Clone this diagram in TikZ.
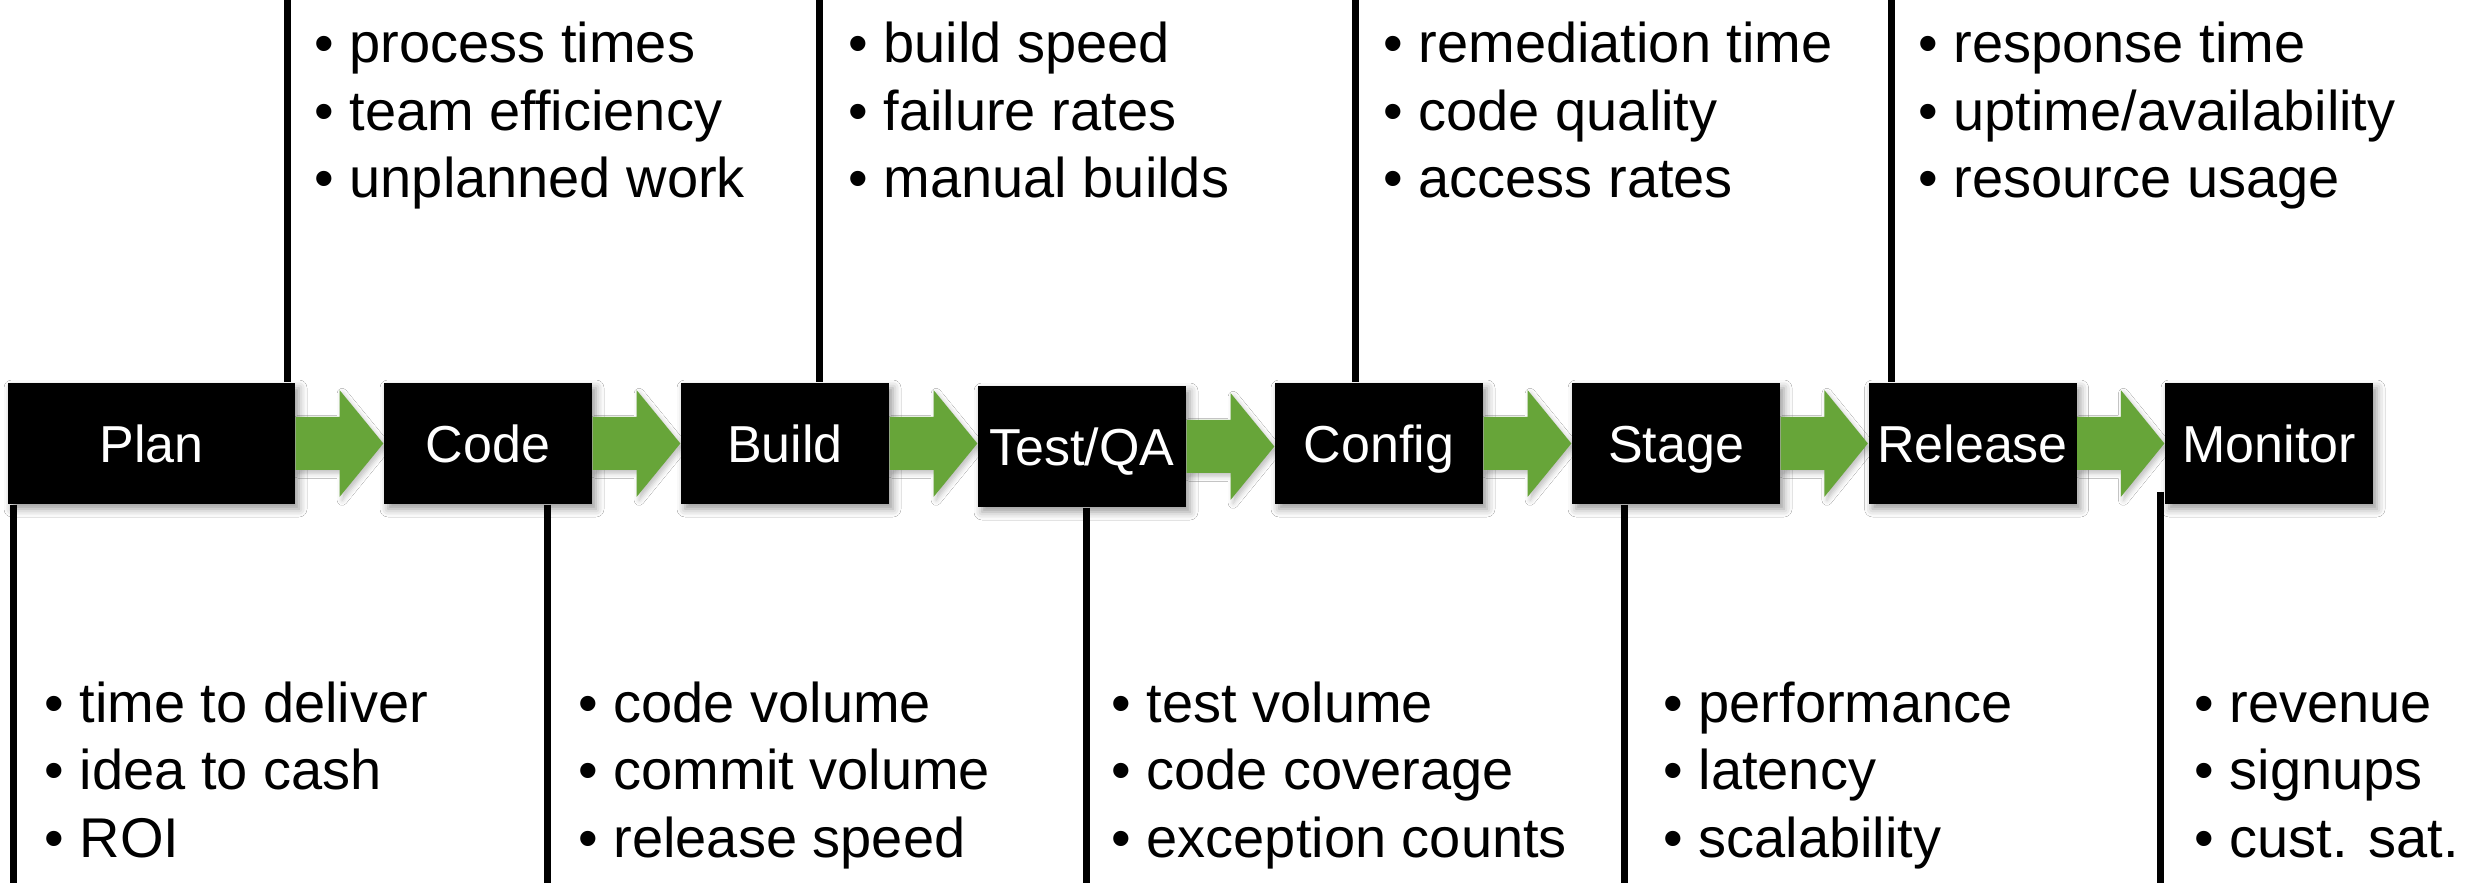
\documentclass[tikz,border=0pt]{standalone}
\usepackage{fontspec}
\setmainfont{Liberation Sans}
\usetikzlibrary{calc,shadows.blur}

\definecolor{flowgreen}{RGB}{103,165,57}

% one unit = one pixel of the 2466 x 883 canvas (y runs downward)
\tikzset{
  stagebox/.style={fill=black, text=white, inner sep=0pt,
    minimum height=36.3pt, minimum width=62.4pt,
    text height=11.2pt, text depth=0pt,
    font=\fontsize{15.6}{18}\selectfont,
    blur shadow={shadow xshift=1.2pt, shadow yshift=-1.5pt,
      shadow blur radius=2.4pt, shadow opacity=40}},
  flow/.style={fill=flowgreen,
    blur shadow={shadow xshift=0.8pt, shadow yshift=-1pt,
      shadow blur radius=1.5pt, shadow opacity=25}},
  rule/.style={line width=2.1pt, black},
  metric/.style={anchor=base west, inner sep=0pt,
    font=\fontsize{16.8}{20.25}\selectfont},
}

\newcommand\bul{\makebox[10.5pt][l]{•}}
\newcommand\metrics[3]{\begin{tabular}[t]{@{}l@{}}\bul #1\\\bul #2\\\bul #3\end{tabular}}

% green block arrow from the east side of #1 to the west side of #2
\newcommand\flowarrow[2]{%
  \path[flow] let \p1=(#1.east), \p2=(#2.west),
      \p3=($(#1.east)!0.5!(#2.west)$) in
    (\x1,\y1+7.95pt) -- (\x3,\y1+7.95pt) -- (\x3,\y1+16.05pt)
    -- (\x2,\y1) -- (\x3,\y1-16.05pt) -- (\x3,\y1-7.95pt)
    -- (\x1,\y1-7.95pt) -- cycle;}

\begin{document}
\begin{tikzpicture}[x=0.3pt, y=-0.3pt]
  \useasboundingbox[fill=white] (0,0) rectangle (2466,883);

  % pipeline stages
  \node[stagebox, minimum width=86.1pt] (plan) at (151.5,443.5) {Plan};
  \node[stagebox] (code)    at (488,443.5)    {Code};
  \node[stagebox] (build)   at (785,443.5)    {Build};
  \node[stagebox] (test)    at (1082,446.5)   {Test/QA};
  \node[stagebox] (config)  at (1379,443.5)   {Config};
  \node[stagebox] (stage)   at (1676,443.5)   {Stage};
  \node[stagebox] (release) at (1972.5,443.5) {Release};
  \node[stagebox] (monitor) at (2269,443.5)   {Monitor};

  % flow between stages
  \flowarrow{plan}{code}
  \flowarrow{code}{build}
  \flowarrow{build}{test}
  \flowarrow{test}{config}
  \flowarrow{config}{stage}
  \flowarrow{stage}{release}
  \flowarrow{release}{monitor}

  % rules up to the top edge
  \coordinate (up1) at (287,0);
  \coordinate (up2) at (819,0);
  \coordinate (up3) at (1355,0);
  \coordinate (up4) at (1891,0);
  \draw[rule] (up1) -- (up1 |- plan.north);
  \draw[rule] (up2) -- (up2 |- build.north);
  \draw[rule] (up3) -- (up3 |- config.north);
  \draw[rule] (up4) -- (up4 |- release.north);

  % rules down to the bottom edge
  \coordinate (dn1) at (13,883);
  \coordinate (dn2) at (547,883);
  \coordinate (dn3) at (1086,883);
  \coordinate (dn4) at (1624,883);
  \coordinate (dn5) at (2160,883);
  \coordinate (dn5top) at (2160,492);
  \draw[rule] (dn1 |- plan.south) -- (dn1);
  \draw[rule] (dn2 |- code.south) -- (dn2);
  \draw[rule] (dn3 |- test.south) -- (dn3);
  \draw[rule] (dn4 |- stage.south) -- (dn4);
  \draw[rule] (dn5top) -- (dn5);

  % metrics above the pipeline
  \node[metric] (mup1) at (314,63)  {\metrics{process times}{team efficiency}{unplanned work}};
  \node[metric] (mup2) at (848,63)  {\metrics{build speed}{failure rates}{manual builds}};
  \node[metric] (mup3) at (1383,63) {\metrics{remediation time}{code quality}{access rates}};
  \node[metric] (mup4) at (1918,63) {\metrics{response time}{uptime/availability}{resource usage}};

  % metrics below the pipeline
  \node[metric] (mdn1) at (44,722)   {\metrics{time to deliver}{idea to cash}{ROI}};
  \node[metric] (mdn2) at (578,722)  {\metrics{code volume}{commit volume}{release speed}};
  \node[metric] (mdn3) at (1111,722) {\metrics{test volume}{code coverage}{exception counts}};
  \node[metric] (mdn4) at (1663,722) {\metrics{performance}{latency}{scalability}};
  \node[metric] (mdn5) at (2194,722) {\metrics{revenue}{signups}{cust. sat.}};
\end{tikzpicture}
\end{document}
